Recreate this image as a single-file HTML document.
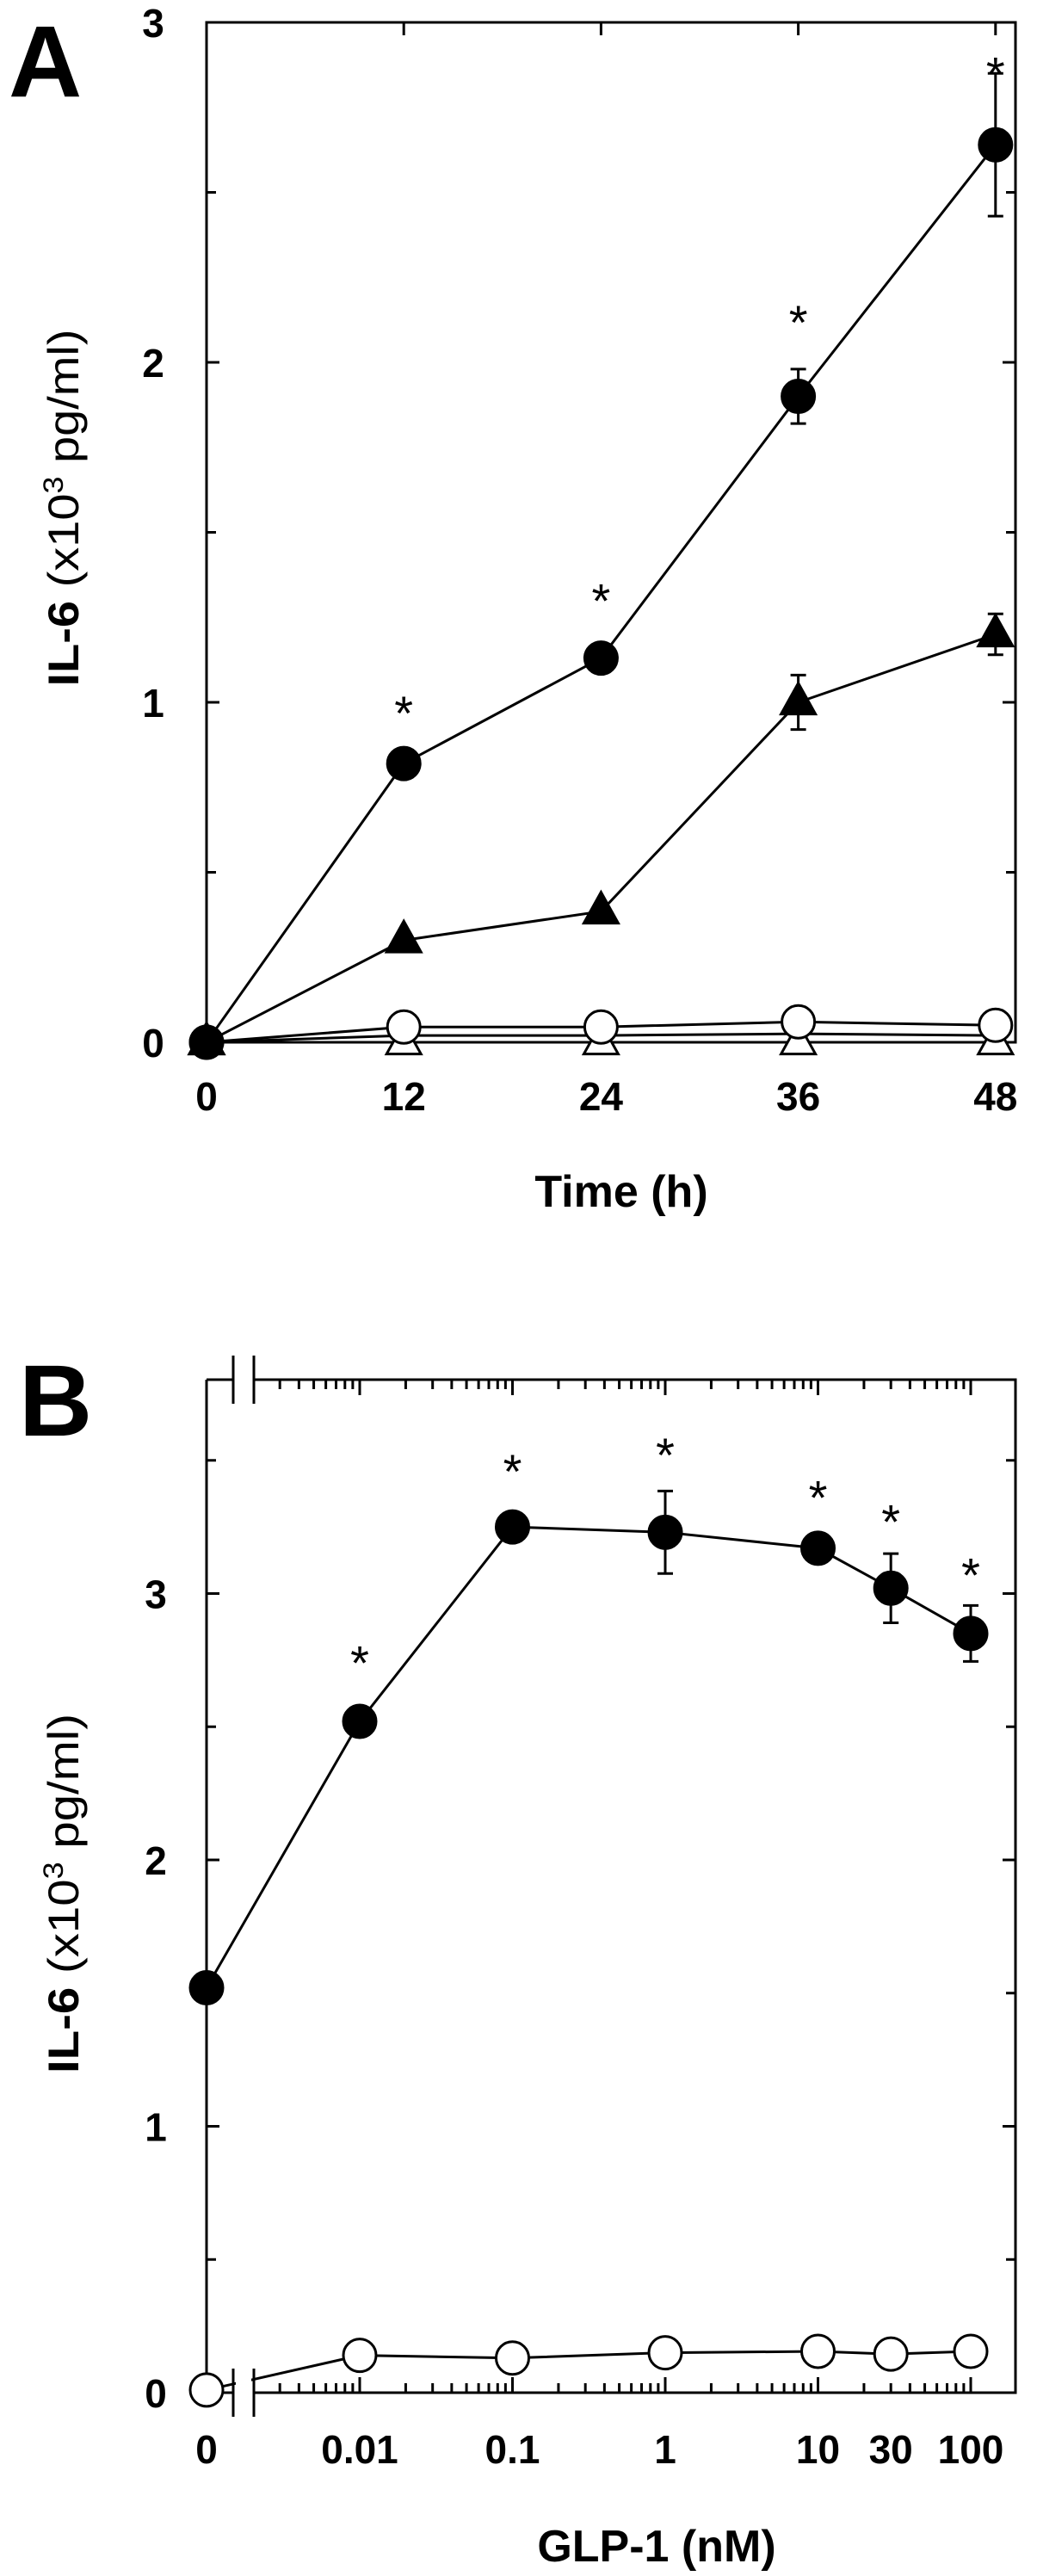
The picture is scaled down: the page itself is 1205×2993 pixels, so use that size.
<!DOCTYPE html>
<html><head><meta charset="utf-8">
<style>
html,body{margin:0;padding:0;background:#fff;}
svg{display:block;}
text{font-family:"Liberation Sans",Arial,sans-serif;fill:#000;}
</style></head>
<body>
<svg id="fig" width="1205" height="2993" viewBox="0 0 1205 2993" xmlns="http://www.w3.org/2000/svg">
<rect x="0" y="0" width="1205" height="2993" fill="#fff"/>
<g id="panelA"></g>
<g id="panelB"></g>
</svg>
<script>
// ===== Panel A data =====
const timesA = [0, 12, 24, 36, 48];
const glpFilled = [0, 0.82, 1.13, 1.90, 2.64];
const glpFilledErr = [0, 0, 0, 0.08, 0.21];
const triFilled = [0, 0.30, 0.385, 1.00, 1.20];
const triFilledErr = [0, 0, 0, 0.08, 0.06];
const ctrlOpen = [0, 0.045, 0.045, 0.06, 0.05];
const midLine = [0, 0.02, 0.02, 0.025, 0.02];
const triOpen = [0, 0.0, 0.0, 0.0, 0.0];
const starsA = [1.0, 1.33, 2.15, 2.88];
const starTimesA = [12, 24, 36, 48];
const yTicksA = [0, 1, 2, 3];
const xTicksA = [0, 12, 24, 36, 48];

// ===== Panel B data =====
const dosesB = [0, 0.01, 0.1, 1, 10, 30, 100];
const doseLabelsB = ["0", "0.01", "0.1", "1", "10", "30", "100"];
const bFilled = [1.52, 2.52, 3.25, 3.23, 3.17, 3.02, 2.85];
const bFilledErr = [0, 0, 0, 0.155, 0, 0.13, 0.105];
const bOpen = [0.01, 0.14, 0.13, 0.15, 0.155, 0.145, 0.155];
const starsB = [2.78, 3.50, 3.56, 3.40, 3.31, 3.11];
const starDosesB = [0.01, 0.1, 1, 10, 30, 100];
const yTicksB = [0, 1, 2, 3];

const NS = "http://www.w3.org/2000/svg";
function mk(parent, tag, attrs, text) {
  const el = document.createElementNS(NS, tag);
  for (const k in attrs) el.setAttribute(k, attrs[k]);
  if (text !== undefined) el.textContent = text;
  parent.appendChild(el);
  return el;
}
const SW = 3;

// ---------- Panel A ----------
(function(){
  const g = document.getElementById('panelA');
  const L = 240, R = 1180, T = 26, B = 1211;
  const xA = t => L + t * 19.1;
  const yA = v => B - v * 395;

  let e = mk(g, 'text', {x: 10, y: 112, 'font-size': 118, 'font-weight': 'bold'}, 'A');
  
  

  e = mk(g, 'rect', {x: L, y: T, width: R - L, height: B - T, fill: 'none', stroke: '#000', 'stroke-width': SW});
  
  

  for (let v = 0.5; v < 3; v += 0.5) {
    const len = (Math.abs(v - Math.round(v)) < 1e-6) ? 15 : 11;
    e = mk(g, 'line', {x1: L, x2: L + len, y1: yA(v), y2: yA(v), stroke: '#000', 'stroke-width': SW});
    
    
    e = mk(g, 'line', {x1: R, x2: R - len, y1: yA(v), y2: yA(v), stroke: '#000', 'stroke-width': SW});
    
    
  }
  for (const t of xTicksA) {
    if (t === 0) continue;
    e = mk(g, 'line', {x1: xA(t), x2: xA(t), y1: B, y2: B - 15, stroke: '#000', 'stroke-width': SW});
    
    
    e = mk(g, 'line', {x1: xA(t), x2: xA(t), y1: T, y2: T + 15, stroke: '#000', 'stroke-width': SW});
    
    
  }
  for (const v of yTicksA) {
    e = mk(g, 'text', {x: 178, y: yA(v) + 17, 'font-size': 46, 'font-weight': 'bold', 'text-anchor': 'middle'}, String(v));
    
    
  }
  for (const t of xTicksA) {
    e = mk(g, 'text', {x: xA(t), y: 1290, 'font-size': 46, 'font-weight': 'bold', 'text-anchor': 'middle'}, String(t));
    
    
  }
  e = mk(g, 'text', {x: 722, y: 1402, 'font-size': 52, 'font-weight': 'bold', 'text-anchor': 'middle'}, 'Time (h)');
  
  

  const yt = mk(g, 'text', {x: 0, y: 0, 'font-size': 50, 'text-anchor': 'middle', transform: 'translate(91,590) rotate(-90)', textLength: 415, lengthAdjust: 'spacingAndGlyphs'});
  
  
  mk(yt, 'tspan', {'font-weight': 'bold'}, 'IL-6  ');
  mk(yt, 'tspan', {}, '(x10');
  mk(yt, 'tspan', {'font-size': 32, dy: -18}, '3');
  mk(yt, 'tspan', {dy: 18}, ' pg/ml)');

  function series(vals, name) {
    const pts = vals.map((v, i) => xA(timesA[i]) + ',' + yA(v)).join(' ');
    const p = mk(g, 'polyline', {points: pts, fill: 'none', stroke: '#000', 'stroke-width': SW});
    
    
  }
  function errs(vals, errv, name) {
    vals.forEach((v, i) => {
      if (!errv[i]) return;
      const x = xA(timesA[i]);
      const el = mk(g, 'path', {d: `M${x},${yA(v+errv[i])}V${yA(v-errv[i])}M${x-9},${yA(v+errv[i])}H${x+9}M${x-9},${yA(v-errv[i])}H${x+9}`, stroke: '#000', 'stroke-width': SW, fill: 'none'});
      
      
    });
  }
  function tri(x, y, filled, name) {
    const h = 36, w = 40;
    const el = mk(g, 'polygon', {points: `${x},${y-h*0.62} ${x-w/2},${y+h*0.38} ${x+w/2},${y+h*0.38}`, fill: filled ? '#000' : '#fff', stroke: '#000', 'stroke-width': SW});
    
    
  }
  function circ(x, y, filled, name) {
    const el = mk(g, 'circle', {cx: x, cy: y, r: 19, fill: filled ? '#000' : '#fff', stroke: '#000', 'stroke-width': SW});
    
    
  }

  series(triOpen, 'line-open-triangle');
  series(midLine, 'line-control-2');
  series(ctrlOpen, 'line-open-circle');
  triOpen.forEach((v, i) => tri(xA(timesA[i]), yA(v), false, 'point-open-triangle'));
  ctrlOpen.forEach((v, i) => circ(xA(timesA[i]), yA(v), false, 'point-open-circle'));
  series(triFilled, 'line-filled-triangle');
  errs(triFilled, triFilledErr, 'error-bar-triangle');
  triFilled.forEach((v, i) => tri(xA(timesA[i]), yA(v), true, 'point-filled-triangle'));
  series(glpFilled, 'line-filled-circle');
  errs(glpFilled, glpFilledErr, 'error-bar-circle');
  glpFilled.forEach((v, i) => circ(xA(timesA[i]), yA(v), true, 'point-filled-circle'));
  starsA.forEach((v, i) => {
    const s = mk(g, 'text', {x: xA(starTimesA[i]), y: yA(v) + 32, 'font-size': 56, 'text-anchor': 'middle'}, '*');
    
    
  });
})();

// ---------- Panel B ----------
(function(){
  const g = document.getElementById('panelB');
  const L = 240, R = 1180, T = 1603, B = 2780;
  const BR1 = 271, BR2 = 295;
  const yB = v => B - v * 309.5;
  const xB = d => d === 0 ? L : 418 + 177.5 * (Math.log10(d) + 2);

  let e = mk(g, 'text', {x: 22, y: 1668, 'font-size': 118, 'font-weight': 'bold'}, 'B');
  
  

  // frame
  e = mk(g, 'path', {d: `M${L},${T}V${B}M${L},${T}H${BR1}M${BR2},${T}H${R}V${B}H${BR2}M${BR1},${B}H${L}`, fill: 'none', stroke: '#000', 'stroke-width': SW});
  
  
  for (const yy of [T, B]) {
    for (const bx of [BR1, BR2]) {
      e = mk(g, 'line', {x1: bx, x2: bx, y1: yy - 28, y2: yy + 28, stroke: '#000', 'stroke-width': SW});
      
      
    }
  }
  for (let v = 0.5; v < 3.7; v += 0.5) {
    const len = (Math.abs(v - Math.round(v)) < 1e-6) ? 15 : 11;
    e = mk(g, 'line', {x1: L, x2: L + len, y1: yB(v), y2: yB(v), stroke: '#000', 'stroke-width': SW});
    
    
    e = mk(g, 'line', {x1: R, x2: R - len, y1: yB(v), y2: yB(v), stroke: '#000', 'stroke-width': SW});
    
    
  }
  for (let dec = -3; dec <= 2; dec++) {
    for (let m = 1; m <= 9; m++) {
      const d = m * Math.pow(10, dec);
      const x = xB(d);
      if (x < BR2 + 10 || x > R - 5) continue;
      const len = m === 1 ? 18 : 11;
      e = mk(g, 'line', {x1: x, x2: x, y1: B, y2: B - len, stroke: '#000', 'stroke-width': SW});
      
      
      e = mk(g, 'line', {x1: x, x2: x, y1: T, y2: T + len, stroke: '#000', 'stroke-width': SW});
      
      
    }
  }
  for (const v of yTicksB) {
    e = mk(g, 'text', {x: 181, y: yB(v) + 17, 'font-size': 46, 'font-weight': 'bold', 'text-anchor': 'middle'}, String(v));
    
    
  }
  dosesB.forEach((d, i) => {
    const t = mk(g, 'text', {x: xB(d), y: 2862, 'font-size': 46, 'font-weight': 'bold', 'text-anchor': 'middle'}, doseLabelsB[i]);
    
    
  });
  e = mk(g, 'text', {x: 763, y: 2976, 'font-size': 52, 'font-weight': 'bold', 'text-anchor': 'middle'}, 'GLP-1 (nM)');
  
  

  const yt = mk(g, 'text', {x: 0, y: 0, 'font-size': 50, 'text-anchor': 'middle', transform: 'translate(91,2200) rotate(-90)', textLength: 418, lengthAdjust: 'spacingAndGlyphs'});
  
  
  mk(yt, 'tspan', {'font-weight': 'bold'}, 'IL-6  ');
  mk(yt, 'tspan', {}, '(x10');
  mk(yt, 'tspan', {'font-size': 32, dy: -18}, '3');
  mk(yt, 'tspan', {dy: 18}, ' pg/ml)');

  function series(vals, name) {
    const pts = vals.map((v, i) => xB(dosesB[i]) + ',' + yB(v)).join(' ');
    const p = mk(g, 'polyline', {points: pts, fill: 'none', stroke: '#000', 'stroke-width': SW});
    
    
  }
  function circ(x, y, filled, name) {
    const el = mk(g, 'circle', {cx: x, cy: y, r: 19, fill: filled ? '#000' : '#fff', stroke: '#000', 'stroke-width': SW});
    
    
  }
  series(bOpen, 'line-open-circle');
  // gap for axis break over open line
  e = mk(g, 'rect', {x: BR1 + 3, y: B - 22, width: BR2 - BR1 - 6, height: 30, fill: '#fff'});
  
  
  bOpen.forEach((v, i) => circ(xB(dosesB[i]), yB(v), false, 'point-open-circle'));
  series(bFilled, 'line-filled-circle');
  bFilled.forEach((v, i) => {
    if (!bFilledErr[i]) return;
    const x = xB(dosesB[i]), er = bFilledErr[i];
    const el = mk(g, 'path', {d: `M${x},${yB(v+er)}V${yB(v-er)}M${x-9},${yB(v+er)}H${x+9}M${x-9},${yB(v-er)}H${x+9}`, stroke: '#000', 'stroke-width': SW, fill: 'none'});
    
    
  });
  bFilled.forEach((v, i) => circ(xB(dosesB[i]), yB(v), true, 'point-filled-circle'));
  starsB.forEach((v, i) => {
    const s = mk(g, 'text', {x: xB(starDosesB[i]), y: yB(v) + 32, 'font-size': 56, 'text-anchor': 'middle'}, '*');
    
    
  });
})();
</script>
</body></html>
